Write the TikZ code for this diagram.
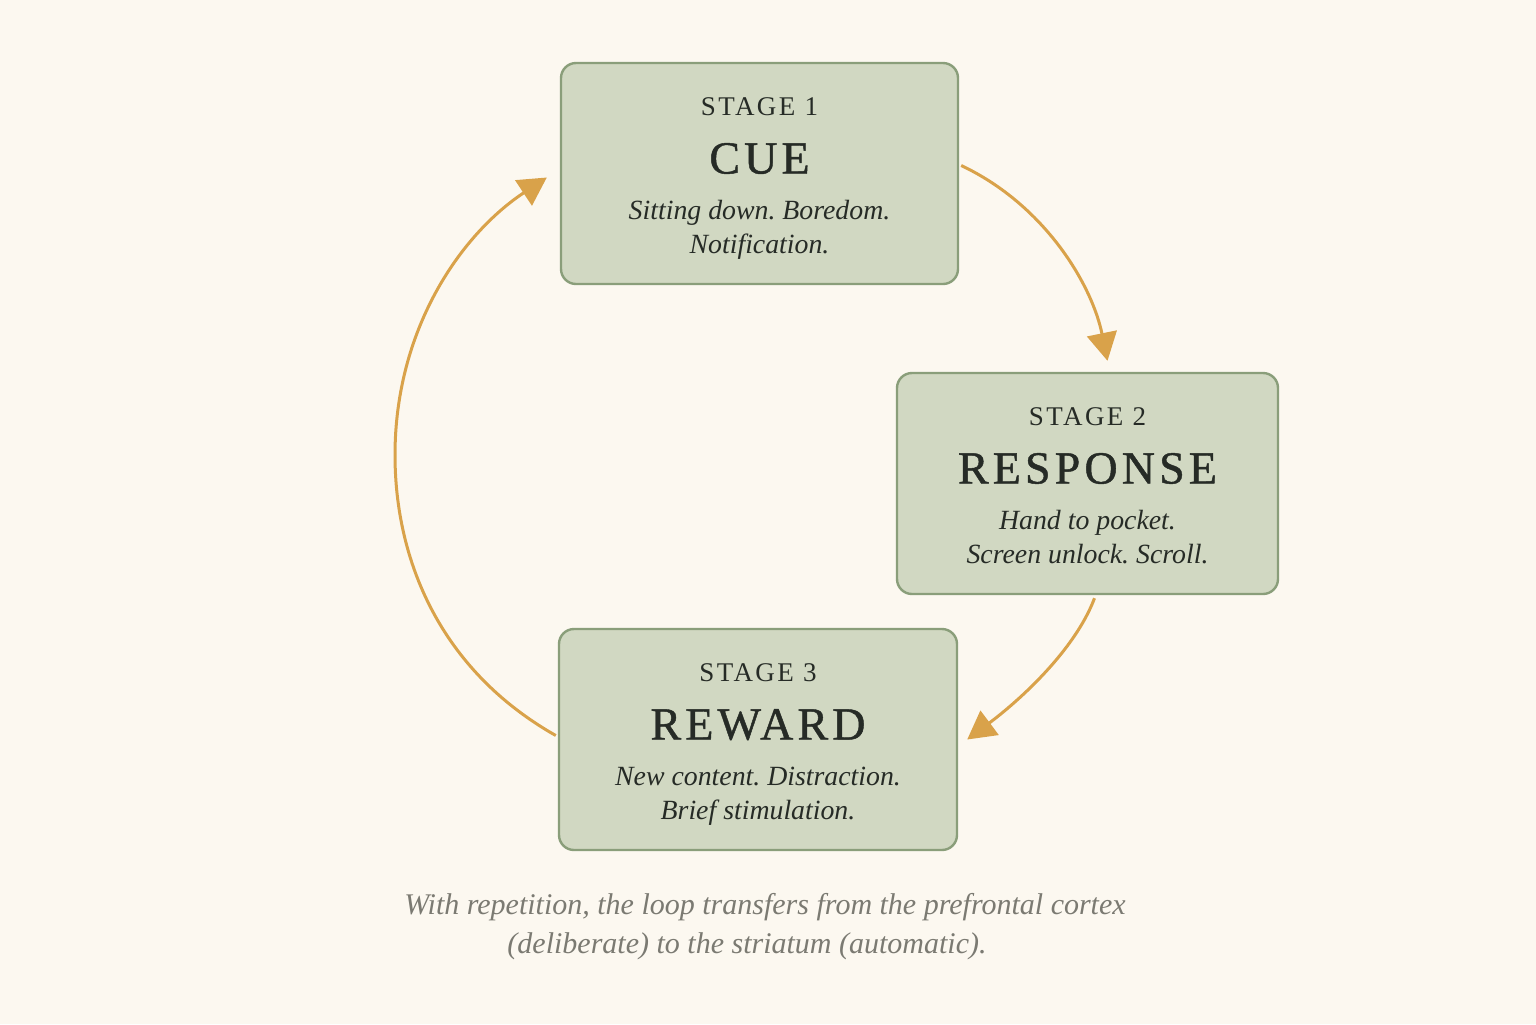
\documentclass[tikz,border=0pt]{standalone}
\usepackage{fontspec}
\setmainfont{Liberation Serif}
\usetikzlibrary{arrows.meta,calc}
\frenchspacing
\definecolor{bg}{HTML}{FCF8F0}
\definecolor{boxfill}{HTML}{D1D8C2}
\definecolor{boxline}{HTML}{8A9E7A}
\definecolor{arrowc}{HTML}{D9A24A}
\definecolor{ink}{HTML}{262B26}
\definecolor{capc}{HTML}{7B7A72}
\newfontfamily\stagefont[LetterSpace=9]{Liberation Serif}
\newfontfamily\titlefont[LetterSpace=9,FakeBold=1]{Liberation Serif}
\begin{document}
\begin{tikzpicture}[x=0.5pt,y=-0.5pt,
  stagebox/.style={draw=boxline, fill=boxfill, line width=1.2pt, rounded corners=7.5pt, minimum width=198.5pt, minimum height=110.5pt, inner sep=0pt},
  stagelbl/.style={text=ink, font=\stagefont\fontsize{13.5}{15}\selectfont, inner sep=0pt, anchor=base},
  titlelbl/.style={text=ink, font=\titlefont\fontsize{23}{26}\selectfont, inner sep=0pt, anchor=base},
  desclbl/.style={text=ink, font=\itshape\fontsize{13.9}{16}\selectfont, inner sep=0pt, anchor=base},
  caplbl/.style={text=capc, font=\itshape\fontsize{15}{17}\selectfont, inner sep=0pt, anchor=base},
  loop/.style={draw=arrowc, line width=1.5pt, -{Triangle[length=14pt,width=15pt]}}
]
\fill[bg] (0,0) rectangle (1536,1024);
\useasboundingbox (0,0) rectangle (1536,1024);

\node[stagebox] (cue) at (759.5,173.5) {};
\node[stagebox, minimum width=190.5pt] (resp) at (1087.5,483.5) {};
\node[stagebox, minimum width=199pt] (rew) at (758,739.5) {};

\node[stagelbl] (s1) at ($(cue)+(0,-58.5)$) {STAGE 1};
\node[titlelbl] (t1) at ($(cue)+(0,0)$) {CUE};
\node[desclbl] (d1a) at ($(cue)+(0,45.5)$) {Sitting down. Boredom.};
\node[desclbl] (d1b) at ($(cue)+(0,79.5)$) {Notification.};

\node[stagelbl] (s2) at ($(resp)+(0,-58.5)$) {STAGE 2};
\node[titlelbl] (t2) at ($(resp)+(0,0)$) {RESPONSE};
\node[desclbl] (d2a) at ($(resp)+(0,45.5)$) {Hand to pocket.};
\node[desclbl] (d2b) at ($(resp)+(0,79.5)$) {Screen unlock. Scroll.};

\node[stagelbl] (s3) at ($(rew)+(0,-58.5)$) {STAGE 3};
\node[titlelbl] (t3) at ($(rew)+(0,0)$) {REWARD};
\node[desclbl] (d3a) at ($(rew)+(0,45.5)$) {New content. Distraction.};
\node[desclbl] (d3b) at ($(rew)+(0,79.5)$) {Brief stimulation.};

\draw[loop] ($(cue.east)+(2,-8)$) .. controls (1045,205) and (1092,285) .. ($(resp.north)+(20,-11)$);
\draw[loop] ($(resp.south)+(7,3)$) .. controls (1075,650) and (1020,700) .. ($(rew.east)+(9,0)$);
\draw[loop] ($(rew.west)+(-2,-4)$) .. controls (440,670) and (395,560) .. (395,455) .. controls (395,330) and (460,235) .. ($(cue.west)+(-13,4)$);

\node[caplbl] (c1) at (765,914) {With repetition, the loop transfers from the prefrontal cortex};
\node[caplbl] (c2) at (747,953) {(deliberate) to the striatum (automatic).};
\end{tikzpicture}
\end{document}
